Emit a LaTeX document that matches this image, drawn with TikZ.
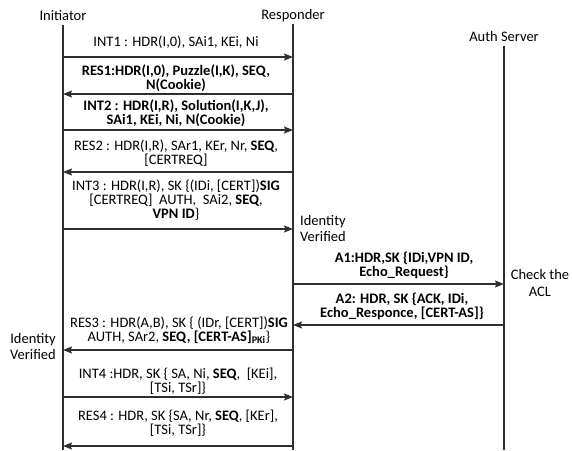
\documentclass[tikz,border=0pt]{standalone}
\usepackage{fontspec}
\setmainfont{Carlito}
\usetikzlibrary{arrows.meta}
\definecolor{ink}{HTML}{2E2E2E}
\begin{document}
\begin{tikzpicture}[x=1pt,y=-1pt,
 life/.style={draw=ink, line width=1.4pt},
 msg/.style={draw=ink, line width=1.3pt, -{Stealth[length=9pt,width=7pt,inset=1.5pt]}},
 lbl/.style={font=\fontsize{14.5}{14}\selectfont, align=center, inner sep=0pt, text=black},
 bl/.style={lbl, font=\fontsize{14.5}{14}\selectfont\bfseries},
 side/.style={font=\fontsize{14.5}{15}\selectfont, inner sep=0pt, text=black},
 ]
\useasboundingbox (0,0) rectangle (572,450);
% lifelines
\node[lbl] (ini) at (63,16) {Initiator};
\node[lbl] (res) at (293,16) {Responder};
\node[lbl] (aut) at (504,37) {Auth Server};
\coordinate (iTop) at (63,25);  \coordinate (iBot) at (63,450);
\coordinate (rTop) at (293,24); \coordinate (rBot) at (293,450);
\coordinate (aTop) at (504,46); \coordinate (aBot) at (504,450);
\draw[life] (iTop) -- (iBot);
\draw[life] (rTop) -- (rBot);
\draw[life] (aTop) -- (aBot);
% message end points
\foreach \n/\y in {1/57,2/94,3/130,4/172,5/229,8/350,9/397,10/446}{
  \coordinate (i\n) at (63,\y); \coordinate (r\n) at (293,\y);}
\foreach \n/\y in {6/284,7/325}{
  \coordinate (r\n) at (293,\y); \coordinate (a\n) at (504,\y);}
% messages
\draw[msg] (i1) -- (r1);
\node[lbl] (t1) at (176,42) {INT1 : HDR(I,0), SAi1, KEi, Ni};
\draw[msg] (r2) -- (i2);
\node[bl] (t2) at (176,78.5) {RES1:HDR(I,0), Puzzle(I,K), SEQ,\\N(Cookie)};
\draw[msg] (i3) -- (r3);
\node[bl] (t3) at (176,113.5) {INT2 : HDR(I,R), Solution(I,K,J),\\SAi1, KEi, Ni, N(Cookie)};
\draw[msg] (r4) -- (i4);
\node[lbl] (t4) at (176,153.5) {RES2 : HDR(I,R), SAr1, KEr, Nr, \textbf{SEQ},\\{}[CERTREQ]};
\draw[msg] (i5) -- (r5);
\node[lbl] (t5) at (176,200) {INT3 : HDR(I,R), SK \{(IDi, [CERT])\textbf{SIG}\\{}[CERTREQ]\ \ AUTH,\ \ SAi2, \textbf{SEQ},\\\textbf{VPN ID}\}};
\node[side,anchor=west] (idr1) at (300,222) {Identity};
\node[side,anchor=west] (idr2) at (300,237) {Verified};
\draw[msg] (r6) -- (a6);
\node[bl] (t6) at (404,265) {A1:HDR,SK \{IDi,VPN ID,\\Echo\_Request\}};
\node[lbl,font=\fontsize{14.5}{17}\selectfont] (acl) at (540,283.5) {Check the\\ACL};
\draw[msg] (a7) -- (r7);
\node[bl] (t7) at (402,306.5) {A2: HDR, SK \{ACK, IDi,\\Echo\_Responce, [CERT-AS]\}};
\draw[msg] (r8) -- (i8);
\node[lbl] (t8) at (179,330.5) {RES3 : HDR(A,B), SK \{ (IDr, [CERT])\textbf{SIG}\\AUTH, SAr2, \textbf{SEQ, [CERT-AS]\textsubscript{PKi}}\}};
\node[side,anchor=east] (idl1) at (56,340) {Identity};
\node[side,anchor=east] (idl2) at (56,355) {Verified};
\draw[msg] (i9) -- (r9);
\node[lbl] (t9) at (178,381.5) {INT4 :HDR, SK \{ SA, Ni, \textbf{SEQ},\ \ [KEi],\\{}[TSi, TSr]\}};
\draw[msg] (r10) -- (i10);
\node[lbl] (t10) at (178,423.5) {RES4 : HDR, SK \{SA, Nr, \textbf{SEQ}, [KEr],\\{}[TSi, TSr]\}};
\end{tikzpicture}
\end{document}
